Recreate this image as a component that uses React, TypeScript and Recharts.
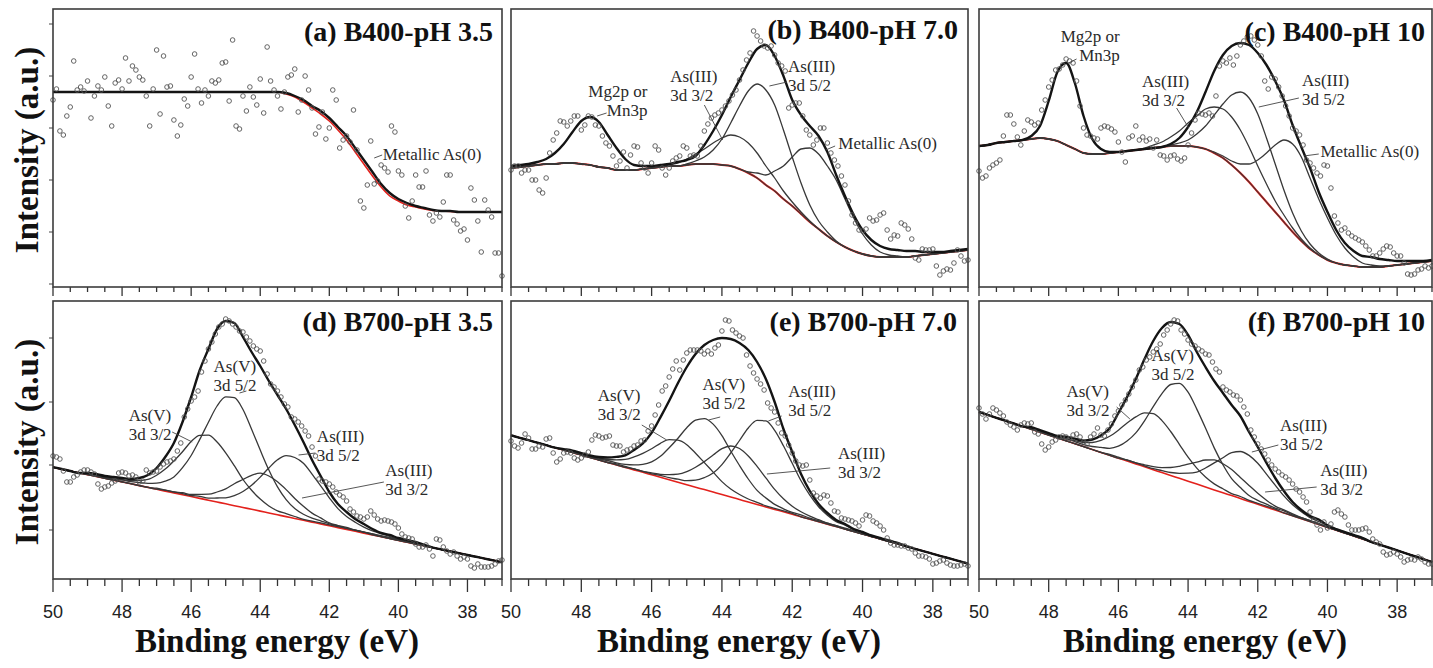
import React from 'react';
import { ComposedChart, Line, Scatter, XAxis, YAxis } from 'recharts';

// binding energy grid of the fitted curves (eV)
const LINE_E = [
  50, 49.75, 49.5, 49.25, 49, 48.75, 48.5, 48.25, 48, 47.75, 47.5, 47.25, 47, 46.75, 46.5, 46.25, 46, 45.75,
  45.5, 45.25, 45, 44.75, 44.5, 44.25, 44, 43.75, 43.5, 43.25, 43, 42.75, 42.5, 42.25, 42, 41.75, 41.5, 41.25,
  41, 40.75, 40.5, 40.25, 40, 39.75, 39.5, 39.25, 39, 38.75, 38.5, 38.25, 38, 37.75, 37.5, 37.25, 37,
];

// binding energy of the measured points (eV)
const SCAN_E = [
  50, 49.9, 49.8, 49.7, 49.6, 49.5, 49.4, 49.3, 49.2, 49.1,
  49, 48.9, 48.8, 48.7, 48.6, 48.5, 48.4, 48.3, 48.2, 48.1,
  48, 47.9, 47.8, 47.7, 47.6, 47.5, 47.4, 47.3, 47.2, 47.1,
  47, 46.9, 46.8, 46.7, 46.6, 46.5, 46.4, 46.3, 46.2, 46.1,
  46, 45.9, 45.8, 45.7, 45.6, 45.5, 45.4, 45.3, 45.2, 45.1,
  45, 44.9, 44.8, 44.7, 44.6, 44.5, 44.4, 44.3, 44.2, 44.1,
  44, 43.9, 43.8, 43.7, 43.6, 43.5, 43.4, 43.3, 43.2, 43.1,
  43, 42.9, 42.8, 42.7, 42.6, 42.5, 42.4, 42.3, 42.2, 42.1,
  42, 41.9, 41.8, 41.7, 41.6, 41.5, 41.4, 41.3, 41.2, 41.1,
  41, 40.9, 40.8, 40.7, 40.6, 40.5, 40.4, 40.3, 40.2, 40.1,
  40, 39.9, 39.8, 39.7, 39.6, 39.5, 39.4, 39.3, 39.2, 39.1,
  39, 38.9, 38.8, 38.7, 38.6, 38.5, 38.4, 38.3, 38.2, 38.1,
  38, 37.9, 37.8, 37.7, 37.6, 37.5, 37.4, 37.3, 37.2, 37.1,
  37,
];

const X_TICKS = [
  50, 49.5, 49, 48.5, 48, 47.5, 47, 46.5, 46, 45.5, 45, 44.5, 44, 43.5, 43, 42.5, 42, 41.5, 41, 40.5, 40, 39.5,
  39, 38.5, 38, 37.5, 37,
];

// (a) B400-pH 3.5
const A_ENV = [
  195, 195, 195, 195, 195, 195, 195, 195, 195, 195, 195, 195, 195, 195, 195, 195, 195, 195, 195, 195,
  195, 195, 195, 195, 195, 195, 195, 194, 191, 187, 181, 176, 169, 160, 151, 139, 127, 115, 103, 94,
  88, 84, 81, 79, 77, 76, 76, 75, 75, 75, 75, 75, 75,
];
const A_BG = [
  195, 195, 195, 195, 195, 195, 195, 195, 195, 195, 195, 195, 195, 195, 195, 195, 195, 195, 195, 195,
  195, 195, 195, 195, 195, 195, 195, 193, 190, 185, 179, 173, 166, 157, 147, 135, 123, 111, 100, 91,
  86, 82, 80, 78, 76.5, 76, 75.5, 75, 75, 75, 75, 75, 75,
];
const A_PTS = [
  187, 198, 156, 152, 171, 180, 226, 197, 200, 196, 206, 169, 191, 201, 197, 210, 181, 161, 204, 207,
  198, 229, 206, 221, 217, 210, 207, 191, 161, 198, 237, 173, 231, 200, 201, 167, 151, 162, 188, 181,
  210, 233, 198, 184, 197, 191, 206, 204, 207, 224, 225, 186, 247, 161, 158, 191, 176, 200, 190, 182,
  208, 174, 240, 206, 197, 191, 178, 195, 210, 212, 218, 175, 187, 211, 197, 179, 153, 160, 175, 148,
  159, 197, 187, 139, 147, 151, 145, 177, 137, 86, 79, 102, 146, 103, 106, 122, 119, 115, 161, 155,
  116, 112, 81, 69, 86, 112, 100, 100, 116, 72, 66, 74, 70, 85, 112, 112, 67, 63, 56, 58,
  47, 99, 87, 66, 35, 87, 77, 70, 34, 34, 11,
];

// (b) B400-pH 7.0
const B_ENV = [
  121, 122, 123, 125, 128, 134, 143, 155, 166, 170, 165, 152, 139, 128, 122, 121, 121, 122, 123, 125,
  127, 131, 142, 156, 172, 190, 207, 224, 238, 242, 231, 211, 187, 172, 161, 151, 135, 112, 91, 72,
  57, 47, 41, 38, 37, 36, 36, 35, 35, 35, 36, 37, 38,
];
const B_BG = [
  119, 120, 121, 122, 123, 123, 124, 124, 123, 122, 120, 119, 117, 117, 117, 118, 119, 120, 121, 121,
  122, 123, 123, 123, 122, 121, 118, 114, 109, 102, 96, 88, 81, 73, 65, 58, 51, 45, 40, 36,
  33, 31, 30, 30, 30, 30, 31, 32, 33, 34, 35, 36, 37,
];
const B_AS3_32 = [
  0, 0, 0, 0, 0, 0, 0, 0, 0, 0, 0, 0, 0, 0, 0, 0, 0, 0, 1, 3,
  6, 10, 15, 21, 27, 31, 32, 30, 25, 19, 13, 8, 4, 2, 1, 0, 0, 0, 0, 0,
  0, 0, 0, 0, 0, 0, 0, 0, 0, 0, 0, 0, 0,
];
const B_AS3_52 = [
  0, 0, 0, 0, 0, 0, 0, 0, 0, 0, 0, 0, 0, 0, 0, 0, 0, 0, 0, 0,
  1, 3, 7, 14, 26, 43, 63, 82, 94, 95, 86, 69, 49, 31, 17, 8, 4, 1, 0, 0,
  0, 0, 0, 0, 0, 0, 0, 0, 0, 0, 0, 0, 0,
];
const B_AS0 = [
  0, 0, 0, 0, 0, 0, 0, 0, 0, 0, 0, 0, 0, 0, 0, 0, 0, 0, 0, 0,
  0, 0, 0, 0, 0, 0, 0, 1, 5, 10, 20, 33, 49, 65, 74, 75, 70, 62, 48, 33,
  20, 11, 5, 2, 1, 0, 0, 0, 0, 0, 0, 0, 0,
];
const B_PTS = [
  117, 121, 121, 114, 117, 117, 107, 107, 97, 94, 109, 134, 147, 154, 166, 165, 161, 166, 171, 171,
  157, 162, 171, 170, 162, 161, 151, 144, 141, 131, 121, 126, 135, 119, 132, 141, 140, 124, 119, 114,
  124, 141, 137, 119, 112, 119, 126, 129, 131, 141, 139, 131, 132, 131, 141, 156, 163, 169, 172, 174,
  177, 181, 186, 192, 197, 207, 217, 227, 234, 256, 251, 246, 241, 239, 241, 232, 224, 221, 216, 179,
  182, 184, 184, 171, 157, 152, 142, 147, 159, 159, 144, 134, 127, 121, 111, 102, 86, 72, 64, 57,
  56, 58, 69, 66, 67, 72, 74, 57, 48, 52, 51, 64, 62, 58, 48, 29, 27, 38, 37, 37,
  38, 21, 12, 16, 18, 17, 24, 37, 31, 26, 27,
];

// (c) B400-pH 10
const C_ENV = [
  141, 142, 144, 145, 146, 147, 151, 161, 186, 215, 224, 204, 171, 148, 138, 135, 135, 136, 137, 138,
  139, 140, 143, 149, 160, 175, 195, 216, 232, 241, 244, 242, 234, 222, 206, 187, 162, 140, 119, 95,
  75, 57, 44, 36, 31, 30, 28, 27, 26, 26, 26, 26, 27,
];
const C_BG = [
  141, 142, 144, 145, 146, 147, 148, 149, 148, 146, 142, 138, 134, 133, 133, 134, 135, 136, 137, 138,
  139, 140, 141, 141, 141, 140, 138, 134, 129, 122, 114, 105, 95, 85, 75, 65, 55, 46, 38, 32,
  27, 24, 22, 21, 20, 20, 20, 21, 22, 23, 24, 25, 26,
];
const C_AS3_32 = [
  0, 0, 0, 0, 0, 0, 0, 0, 0, 0, 0, 0, 0, 0, 0, 0, 0, 0, 0, 1,
  3, 5, 9, 15, 23, 31, 40, 46, 49, 48, 43, 35, 26, 18, 11, 7, 4, 2, 1, 0,
  0, 0, 0, 0, 0, 0, 0, 0, 0, 0, 0, 0, 0,
];
const C_AS3_52 = [
  0, 0, 0, 0, 0, 0, 0, 0, 0, 0, 0, 0, 0, 0, 0, 0, 0, 0, 0, 0,
  0, 0, 1, 3, 6, 13, 23, 38, 54, 70, 81, 84, 78, 64, 48, 32, 19, 10, 5, 2,
  1, 0, 0, 0, 0, 0, 0, 0, 0, 0, 0, 0, 0,
];
const C_AS0 = [
  0, 0, 0, 0, 0, 0, 0, 0, 0, 0, 0, 0, 0, 0, 0, 0, 0, 0, 0, 0,
  0, 0, 0, 0, 0, 0, 0, 1, 2, 4, 9, 18, 32, 49, 67, 82, 88, 84, 71, 56,
  42, 28, 17, 9, 4, 2, 1, 0, 0, 0, 0, 0, 0,
];
const C_PTS = [
  116, 109, 111, 119, 122, 124, 127, 151, 172, 172, 163, 150, 142, 156, 167, 165, 162, 164, 177, 187,
  200, 207, 217, 218, 222, 228, 226, 224, 206, 181, 159, 152, 151, 149, 148, 159, 161, 160, 158, 155,
  145, 135, 125, 149, 151, 161, 147, 150, 146, 148, 139, 147, 132, 131, 127, 131, 132, 128, 126, 129,
  142, 154, 167, 174, 173, 172, 174, 171, 191, 221, 226, 224, 229, 222, 231, 242, 246, 250, 251, 247,
  242, 231, 206, 198, 210, 208, 200, 191, 181, 171, 159, 156, 152, 142, 127, 124, 119, 114, 111, 122,
  121, 99, 71, 64, 57, 59, 54, 51, 49, 47, 45, 41, 37, 31, 31, 34, 38, 41, 40, 34,
  31, 31, 24, 13, 12, 13, 17, 18, 21, 19, 21,
];

// (d) B700-pH 3.5
const D_ENV = [
  112, 110, 108, 106, 106, 105, 103, 102, 101, 100, 101, 104, 111, 122, 136, 157, 182, 209, 230, 250,
  258, 256, 242, 227, 213, 198, 184, 170, 154, 137, 119, 103, 87, 75, 67, 60, 55, 50, 46, 44,
  41, 39, 37, 34, 31.3, 29.5, 27.7, 25.9, 24, 22.2, 20.4, 18.6, 16.7,
];
const D_BG = [
  111.7, 109.9, 108, 106.2, 104.4, 102.6, 100.7, 98.9, 97.1, 95.3, 93.4, 91.6, 89.8, 87.9, 86.1, 84.3, 82.5, 80.6, 78.8, 77,
  75.2, 73.3, 71.5, 69.7, 67.9, 66, 64.2, 62.4, 60.5, 58.7, 56.9, 55.1, 53.2, 51.4, 49.6, 47.8, 45.9, 44.1, 42.3, 40.5,
  38.6, 36.8, 35, 33.2, 31.3, 29.5, 27.7, 25.9, 24, 22.2, 20.4, 18.6, 16.7,
];
const D_AS5_32 = [
  0, 0, 0, 0, 1, 1, 1, 2, 2, 3, 5, 8, 14, 22, 32, 43, 55, 63, 65, 60,
  51, 40, 28, 19, 12, 7, 4, 3, 2, 1, 1, 1, 1, 1, 1, 1, 1, 0, 0, 0,
  0, 0, 0, 0, 0, 0, 0, 0, 0, 0, 0, 0, 0,
];
const D_AS5_52 = [
  0, 0, 0, 0, 1, 1, 1, 1, 2, 2, 3, 4, 6, 10, 16, 27, 41, 59, 78, 96,
  107, 108, 98, 80, 61, 43, 28, 17, 10, 6, 4, 3, 2, 2, 2, 1, 1, 1, 1, 1,
  1, 1, 1, 0, 0, 0, 0, 0, 0, 0, 0, 0, 0,
];
const D_AS3_52 = [
  0, 0, 0, 0, 0, 0, 0, 0, 0, 0, 0, 0, 0, 1, 1, 1, 1, 2, 2, 4,
  6, 10, 16, 24, 34, 45, 55, 61, 61, 57, 48, 38, 28, 19, 13, 9, 6, 4, 3, 2,
  1, 1, 1, 1, 0, 0, 0, 0, 0, 0, 0, 0, 0,
];
const D_AS3_32 = [
  0, 0, 0, 0, 0, 0, 0, 0, 0, 0, 0, 0, 1, 1, 1, 2, 2, 4, 6, 10,
  15, 22, 28, 34, 38, 37, 33, 27, 20, 14, 9, 6, 3, 2, 1, 1, 1, 1, 0, 0,
  0, 0, 0, 0, 0, 0, 0, 0, 0, 0, 0, 0, 0,
];
const D_PTS = [
  123, 122, 120, 108, 97, 97, 102, 104, 107, 109, 109, 107, 105, 95, 90, 92, 93, 96, 98, 106,
  107, 106, 103, 104, 102, 97, 98, 109, 106, 107, 108, 112, 115, 117, 118, 120, 128, 136, 162, 170,
  178, 182, 188, 207, 218, 230, 237, 245, 252, 255, 260, 258, 255, 252, 248, 247, 242, 238, 233, 230,
  228, 218, 205, 195, 192, 188, 182, 175, 172, 162, 160, 157, 153, 148, 143, 132, 123, 100, 98, 97,
  95, 92, 87, 84, 82, 78, 70, 67, 63, 62, 60, 62, 68, 64, 60, 58, 59, 58, 57, 55,
  51, 45, 42, 41, 40, 35, 32, 32, 34, 30, 23, 40, 39, 32, 28, 25, 27, 23, 20, 22,
  20, 13, 11, 15, 12, 12, 12, 13, 15, 18, 19,
];

// (e) B700-pH 7.0
const E_ENV = [
  143.7, 141.2, 138.8, 136.3, 133.8, 131.3, 129.9, 128.4, 125.9, 123.5, 122, 121.5, 122.1, 123.6, 129.1, 135.7, 146.2, 161.7, 178.3, 196,
  212, 225, 234, 239, 241, 240, 236, 229, 217, 200, 177, 150, 127, 105, 88, 75, 66, 59, 55, 50,
  47, 43.5, 41, 38.5, 36.1, 32.6, 30.1, 27.7, 25.2, 22.7, 20.3, 17.8, 15.3,
];
const E_BG = [
  143.7, 141.2, 138.8, 136.3, 133.8, 131.3, 128.9, 126.4, 123.9, 121.5, 119, 116.5, 114.1, 111.6, 109.1, 106.7, 104.2, 101.7, 99.3, 96.8,
  94.3, 91.8, 89.4, 86.9, 84.4, 82, 79.5, 77, 74.6, 72.1, 69.6, 67.2, 64.7, 62.2, 59.8, 57.3, 54.8, 52.4, 49.9, 47.4,
  45, 42.5, 40, 37.5, 35.1, 32.6, 30.1, 27.7, 25.2, 22.7, 20.3, 17.8, 15.3,
];
const E_AS5_32 = [
  0, 0, 0, 0, 0, 0, 1, 1, 1, 1, 2, 3, 5, 8, 13, 19, 26, 34, 40, 42,
  40, 34, 27, 20, 13, 8, 5, 3, 2, 1, 1, 1, 1, 0, 0, 0, 0, 0, 0, 0,
  0, 0, 0, 0, 0, 0, 0, 0, 0, 0, 0, 0, 0,
];
const E_AS5_52 = [
  0, 0, 0, 0, 0, 0, 0, 1, 1, 1, 1, 2, 2, 3, 5, 8, 13, 21, 32, 44,
  57, 67, 71, 68, 59, 46, 34, 23, 14, 9, 5, 3, 2, 2, 1, 1, 1, 1, 0, 0,
  0, 0, 0, 0, 0, 0, 0, 0, 0, 0, 0, 0, 0,
];
const E_AS3_32 = [
  0, 0, 0, 0, 0, 0, 0, 0, 0, 0, 0, 0, 1, 1, 1, 1, 2, 3, 5, 8,
  13, 20, 28, 37, 46, 51, 51, 46, 38, 29, 20, 13, 8, 5, 3, 2, 1, 1, 1, 1,
  0, 0, 0, 0, 0, 0, 0, 0, 0, 0, 0, 0, 0,
];
const E_AS3_52 = [
  0, 0, 0, 0, 0, 0, 0, 0, 0, 0, 0, 0, 0, 0, 1, 1, 1, 2, 2, 3,
  4, 7, 12, 19, 30, 44, 59, 74, 84, 86, 79, 66, 51, 36, 24, 15, 9, 5, 4, 2,
  2, 1, 1, 1, 1, 0, 0, 0, 0, 0, 0, 0, 0,
];
const E_PTS = [
  138, 133, 131, 136, 145, 141, 130, 130, 133, 132, 140, 141, 126, 117, 120, 126, 127, 126, 121, 119,
  121, 124, 127, 139, 144, 143, 141, 142, 143, 134, 133, 133, 127, 129, 130, 133, 134, 138, 139, 148,
  153, 164, 174, 188, 193, 202, 210, 218, 209, 219, 226, 229, 229, 229, 228, 225, 228, 225, 231, 234,
  248, 259, 258, 249, 246, 243, 241, 224, 213, 206, 200, 195, 189, 176, 171, 167, 156, 146, 143, 134,
  126, 118, 114, 113, 114, 99, 86, 83, 81, 84, 83, 76, 68, 67, 61, 60, 59, 58, 56, 53,
  59, 64, 63, 58, 56, 53, 49, 41, 36, 34, 34, 33, 33, 31, 30, 26, 23, 23, 22, 20,
  15, 16, 18, 19, 16, 14, 13, 13, 14, 15, 13,
];

// (f) B700-pH 10
const F_ENV = [
  167, 164.1, 161.2, 158.3, 155.5, 152.6, 151.7, 148.8, 145.9, 143, 142.2, 140.3, 138.4, 139.5, 143.6, 150.7, 166, 182, 200, 220,
  238, 251, 257, 255, 244, 227, 212, 198, 186, 174, 163, 147, 132, 116, 101, 88, 77, 69, 63, 59.5,
  53.6, 49.8, 46.9, 44, 41.1, 37.2, 34.3, 31.5, 28.6, 25.7, 22.8, 19.9, 17,
];
const F_BG = [
  167, 164.1, 161.2, 158.3, 155.5, 152.6, 149.7, 146.8, 143.9, 141, 138.2, 135.3, 132.4, 129.5, 126.6, 123.7, 120.8, 118, 115.1, 112.2,
  109.3, 106.4, 103.5, 100.7, 97.8, 94.9, 92, 89.1, 86.2, 83.4, 80.5, 77.6, 74.7, 71.8, 68.9, 66.1, 63.2, 60.3, 57.4, 54.5,
  51.6, 48.8, 45.9, 43, 40.1, 37.2, 34.3, 31.5, 28.6, 25.7, 22.8, 19.9, 17,
];
const F_AS5_32 = [
  0, 0, 0, 0, 0, 0, 1, 1, 1, 1, 2, 3, 4, 7, 12, 19, 28, 38, 47, 54,
  56, 52, 44, 34, 24, 16, 10, 6, 4, 2, 2, 1, 1, 1, 1, 0, 0, 0, 0, 0,
  0, 0, 0, 0, 0, 0, 0, 0, 0, 0, 0, 0, 0,
];
const F_AS5_52 = [
  0, 0, 0, 0, 0, 0, 1, 1, 1, 1, 2, 2, 2, 3, 5, 7, 12, 20, 31, 46,
  63, 79, 91, 95, 89, 75, 59, 42, 28, 17, 11, 6, 4, 3, 2, 2, 1, 1, 1, 1,
  0, 0, 0, 0, 0, 0, 0, 0, 0, 0, 0, 0, 0,
];
const F_AS3_32 = [
  0, 0, 0, 0, 0, 0, 0, 0, 0, 0, 0, 0, 0, 0, 0, 1, 1, 1, 1, 2,
  3, 5, 8, 12, 17, 22, 27, 30, 29, 26, 21, 16, 11, 7, 4, 3, 2, 1, 1, 1,
  0, 0, 0, 0, 0, 0, 0, 0, 0, 0, 0, 0, 0,
];
const F_AS3_52 = [
  0, 0, 0, 0, 0, 0, 0, 0, 0, 0, 0, 0, 0, 0, 0, 0, 0, 1, 1, 1,
  1, 2, 3, 5, 8, 12, 19, 27, 35, 43, 47, 46, 41, 33, 25, 17, 11, 7, 4, 3,
  2, 1, 1, 1, 1, 0, 0, 0, 0, 0, 0, 0, 0,
];
const F_PTS = [
  171, 165, 160, 165, 171, 169, 166, 163, 157, 154, 152, 149, 154, 156, 155, 156, 147, 145, 135, 129,
  132, 137, 139, 142, 143, 142, 140, 144, 145, 142, 137, 135, 142, 145, 151, 144, 143, 149, 155, 163,
  168, 174, 179, 185, 192, 199, 209, 212, 219, 222, 227, 230, 235, 244, 249, 255, 259, 258, 249, 245,
  239, 235, 233, 230, 228, 225, 224, 217, 210, 207, 192, 189, 187, 184, 183, 179, 172, 165, 149, 142,
  135, 130, 125, 119, 114, 110, 107, 104, 102, 99, 95, 90, 87, 82, 77, 67, 59, 54, 49, 57,
  51, 55, 67, 69, 65, 62, 54, 49, 49, 49, 50, 51, 47, 40, 37, 35, 27, 24, 25, 27,
  25, 22, 17, 19, 20, 19, 22, 20, 17, 15, 15,
];

const V_MAX = 278;
const SERIF = "'Liberation Serif', 'Times New Roman', Times, serif";
const SANS = "'Liberation Sans', Arial, Helvetica, sans-serif";
const ROW1_TICKS = [3, 55, 107, 159, 211, 263];
const ROW2_TICKS = [49, 114, 177, 241];

type Note = { text: string[]; e: number; v: number; anchor?: 'start' | 'end'; leader?: number[] };
type PanelDef = {
  title: string;
  left: number;
  top: number;
  width: number;
  height: number;
  titleDx: number;
  titleY: number;
  env: number[];
  bg: number[];
  parts: number[][];
  pts: number[];
  notes: Note[];
  yTicks: number[];
  labels: boolean;
  darkBg?: boolean;
};

const PANELS: PanelDef[] = [
  {
    title: '(a) B400-pH 3.5', left: 53, top: 9, width: 449, height: 278, titleDx: 9, titleY: 32,
    env: A_ENV, bg: A_BG, parts: [], pts: A_PTS, yTicks: ROW1_TICKS, labels: false,
    notes: [{ text: ['Metallic As(0)'], e: 40.45, v: 133, leader: [40.7, 129, 40.47, 132] }],
  },
  {
    title: '(b) B400-pH 7.0', left: 511, top: 9, width: 457, height: 278, titleDx: 10, titleY: 30,
    env: B_ENV, bg: B_BG, parts: [B_AS3_32, B_AS3_52, B_AS0], pts: B_PTS, yTicks: [], labels: false, darkBg: true,
    notes: [
      { text: ['Mg2p or', 'Mn3p'], e: 46.12, v: 196, anchor: 'end', leader: [47.55, 171, 47.28, 174] },
      { text: ['As(III)', '3d 3/2'], e: 45.47, v: 211, leader: [44.5, 182, 43.98, 147] },
      { text: ['As(III)', '3d 5/2'], e: 42.12, v: 221, leader: [42.15, 205, 42.65, 201] },
      { text: ['Metallic As(0)'], e: 40.69, v: 144, leader: [40.78, 141, 41.05, 137] },
    ],
  },
  {
    title: '(c) B400-pH 10', left: 979, top: 9, width: 453, height: 278, titleDx: 7, titleY: 32,
    env: C_ENV, bg: C_BG, parts: [C_AS3_32, C_AS3_52, C_AS0], pts: C_PTS, yTicks: [], labels: false, darkBg: true,
    notes: [
      { text: ['Mg2p or', 'Mn3p'], e: 45.96, v: 251, anchor: 'end', leader: [47.2, 228, 47.43, 224] },
      { text: ['As(III)', '3d 3/2'], e: 45.32, v: 206, leader: [44.33, 179, 43.98, 159] },
      { text: ['As(III)', '3d 5/2'], e: 40.73, v: 207, leader: [40.82, 189, 41.97, 180] },
      { text: ['Metallic As(0)'], e: 40.2, v: 136, leader: [40.25, 133, 40.68, 131] },
    ],
  },
  {
    title: '(d) B700-pH 3.5', left: 53, top: 301, width: 449, height: 278, titleDx: 9, titleY: 30,
    env: D_ENV, bg: D_BG, parts: [D_AS5_32, D_AS5_52, D_AS3_52, D_AS3_32], pts: D_PTS, yTicks: ROW2_TICKS, labels: true,
    notes: [
      { text: ['As(V)', '3d 3/2'], e: 47.81, v: 164, leader: [46.55, 147, 45.97, 137] },
      { text: ['As(V)', '3d 5/2'], e: 45.35, v: 213, leader: [44.6, 186, 44.4, 188] },
      { text: ['As(III)', '3d 5/2'], e: 42.36, v: 143, leader: [42.4, 126, 42.89, 124] },
      { text: ['As(III)', '3d 3/2'], e: 40.38, v: 109, leader: [40.42, 97, 42.79, 81] },
    ],
  },
  {
    title: '(e) B700-pH 7.0', left: 511, top: 301, width: 457, height: 278, titleDx: 11, titleY: 30,
    env: E_ENV, bg: E_BG, parts: [E_AS5_32, E_AS5_52, E_AS3_32, E_AS3_52], pts: E_PTS, yTicks: [], labels: true,
    notes: [
      { text: ['As(V)', '3d 3/2'], e: 47.53, v: 184, leader: [46.28, 154, 45.57, 139] },
      { text: ['As(V)', '3d 5/2'], e: 44.55, v: 195, leader: [44.05, 162, 44.38, 159] },
      { text: ['As(III)', '3d 5/2'], e: 42.11, v: 188, leader: [42.3, 163, 42.68, 158] },
      { text: ['As(III)', '3d 3/2'], e: 40.7, v: 126, leader: [40.92, 111, 42.72, 105] },
    ],
  },
  {
    title: '(f) B700-pH 10', left: 979, top: 301, width: 453, height: 278, titleDx: 7, titleY: 30,
    env: F_ENV, bg: F_BG, parts: [F_AS5_32, F_AS5_52, F_AS3_32, F_AS3_52], pts: F_PTS, yTicks: [], labels: true,
    notes: [
      { text: ['As(V)', '3d 3/2'], e: 47.49, v: 188, leader: [46.05, 172, 45.67, 160] },
      { text: ['As(V)', '3d 5/2'], e: 45.05, v: 224 },
      { text: ['As(III)', '3d 5/2'], e: 41.36, v: 154, leader: [41.41, 134, 42.17, 127] },
      { text: ['As(III)', '3d 3/2'], e: 40.21, v: 109, leader: [40.31, 92, 41.79, 87] },
    ],
  },
];

function XTick(props: any) {
  const { x, y, payload, labels } = props;
  const val = payload.value as number;
  const major = val % 2 === 0;
  const len = labels ? (major ? 13 : 7) : major ? 9 : 5;
  return (
    <g>
      <line x1={x} x2={x} y1={y} y2={y + len} stroke="#333" strokeWidth={1.3} />
      {labels && major ? (
        <text x={x} y={y + 39} textAnchor="middle" fontSize={18} fontFamily={SANS} fill="#222">
          {val}
        </text>
      ) : null}
    </g>
  );
}

function Ring(props: any) {
  const { cx, cy } = props;
  if (cx == null || cy == null) return <g />;
  return <circle cx={cx} cy={cy} r={2.3} fill="none" stroke="#555" strokeWidth={0.9} />;
}

function Panel({ p }: { p: PanelDef }) {
  const rows = LINE_E.map((e, i) => {
    const row: Record<string, number> = { e, env: p.env[i], bg: p.bg[i] };
    p.parts.forEach((part, k) => {
      row['c' + k] = p.bg[i] + part[i];
    });
    return row;
  });
  const pts = SCAN_E.map((e, i) => ({ e, v: p.pts[i] }));
  const yw = 10;
  const pad = 4;
  const xh = p.labels ? 46 : 12;
  const sx = (e: number) => ((50 - e) / 13) * p.width;
  const sy = (v: number) => p.height - (v / V_MAX) * p.height;

  return (
    <div style={{ position: 'absolute', left: p.left - yw, top: p.top - pad }}>
      <ComposedChart
        width={p.width + yw + pad}
        height={p.height + pad + xh}
        data={rows}
        margin={{ top: pad, right: pad, bottom: 0, left: 0 }}
      >
        <XAxis
          type="number"
          dataKey="e"
          domain={[37, 50]}
          reversed
          ticks={X_TICKS}
          interval={0}
          axisLine={false}
          tickLine={false}
          tickSize={0}
          tickMargin={0}
          height={xh}
          tick={(t: any) => <XTick {...t} labels={p.labels} />}
        />
        <YAxis
          type="number"
          domain={[0, V_MAX]}
          ticks={p.yTicks.length ? p.yTicks : [0]}
          width={yw}
          axisLine={false}
          tickSize={4}
          tickLine={p.yTicks.length ? { stroke: '#444', strokeWidth: 1 } : false}
          tickFormatter={() => ''}
        />
        <Line dataKey="bg" type="monotone" stroke="#e3211c" strokeWidth={p.darkBg ? 2 : 1.6} dot={false} isAnimationActive={false} />
        {p.darkBg ? (
          <Line dataKey="bg" type="monotone" stroke="#4a3232" strokeWidth={1.1} dot={false} isAnimationActive={false} />
        ) : null}
        {p.parts.map((_, k) => (
          <Line
            key={'c' + k}
            dataKey={'c' + k}
            type="monotone"
            stroke="#383838"
            strokeWidth={1.3}
            dot={false}
            isAnimationActive={false}
          />
        ))}
        <Line dataKey="env" type="monotone" stroke="#141414" strokeWidth={2.4} dot={false} isAnimationActive={false} />
        <Scatter data={pts} dataKey="v" shape={Ring} isAnimationActive={false} />
      </ComposedChart>
      <svg
        width={p.width}
        height={p.height}
        style={{ position: 'absolute', left: yw, top: pad, overflow: 'visible', pointerEvents: 'none' }}
      >
        <rect x={0} y={0} width={p.width} height={p.height} fill="none" stroke="#3c3c3c" strokeWidth={1.6} />
        <text
          x={p.width - p.titleDx}
          y={p.titleY}
          textAnchor="end"
          fontFamily={SERIF}
          fontWeight="bold"
          fontSize={28}
          fill="#111"
        >
          {p.title}
        </text>
        {p.notes.map((n, i) => (
          <g key={i}>
            {n.leader ? (
              <line
                x1={sx(n.leader[0])}
                y1={sy(n.leader[1])}
                x2={sx(n.leader[2])}
                y2={sy(n.leader[3])}
                stroke="#444"
                strokeWidth={0.9}
              />
            ) : null}
            {n.text.map((t, j) => (
              <text
                key={j}
                x={sx(n.e)}
                y={sy(n.v) + 6 + j * 19}
                textAnchor={n.anchor ?? 'start'}
                fontFamily={SERIF}
                fontSize={17}
                fill="#2a2a2a"
              >
                {t}
              </text>
            ))}
          </g>
        ))}
      </svg>
    </div>
  );
}

export default function App() {
  return (
    <div style={{ position: 'absolute', left: 0, top: 0, width: 1433, height: 668, background: '#fff' }}>
      {PANELS.map((p) => (
        <Panel key={p.title} p={p} />
      ))}
      <svg width={1433} height={668} style={{ position: 'absolute', left: 0, top: 0, pointerEvents: 'none' }}>
        {[150, 442].map((cy) => (
          <text
            key={cy}
            transform={`translate(38,${cy}) rotate(-90)`}
            textAnchor="middle"
            fontFamily={SERIF}
            fontWeight="bold"
            fontSize={33}
            fill="#111"
          >
            Intensity (a.u.)
          </text>
        ))}
        {[277, 739, 1205].map((cx) => (
          <text key={cx} x={cx} y={652} textAnchor="middle" fontFamily={SERIF} fontWeight="bold" fontSize={33} fill="#111">
            Binding energy (eV)
          </text>
        ))}
      </svg>
    </div>
  );
}
